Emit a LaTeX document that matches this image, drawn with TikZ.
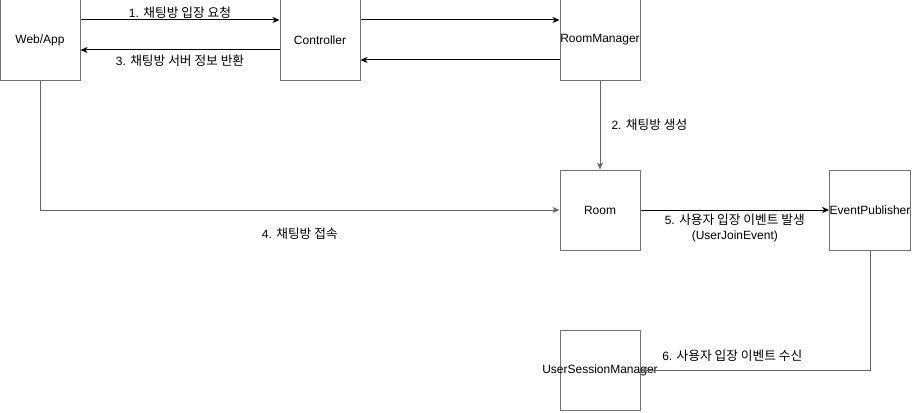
\documentclass[tikz,border=0pt]{standalone}
\usepackage{fontspec}
\setmainfont{Liberation Sans}
\newfontfamily\kr[Scale=1.06]{Noto Sans CJK KR}
\usetikzlibrary{arrows.meta}
\tikzset{
  comp/.style={draw=black!55, line width=1pt, minimum width=80pt, minimum height=80pt, inner sep=0pt, font=\fontsize{12pt}{14pt}\selectfont},
  flow/.style={draw=black, line width=1pt, -{Stealth[length=7pt,width=6pt,inset=2pt]}},
  lbl/.style={font=\fontsize{12pt}{15pt}\selectfont, align=center, inner sep=1pt}
}
\begin{document}
\begin{tikzpicture}[x=1pt,y=-1pt]
    \useasboundingbox (0,0) rectangle (912,412);

    % components
    \node[comp] (web) at (40,40) {Web/App};
    \node[comp] (ctrl) at (320,40) {Controller};
    \node[comp] (rmgr) at (600,40) {RoomManager};
    \node[comp] (room) at (600,210) {Room};
    \node[comp] (pub) at (870,210) {EventPublisher};
    \node[comp] (usm) at (600,370) {\makebox[0pt]{UserSessionManager}};

    % requests
    \draw[flow] ([yshift=20pt]web.east) -- node[lbl, above=0pt] {1. {\kr 채팅방 입장 요청}} ([yshift=20pt]ctrl.west);
    \draw[flow] ([yshift=-10pt]ctrl.west) -- node[lbl, below=3pt] {3. {\kr 채팅방 서버 정보 반환}} ([yshift=-10pt]web.east);
    \draw[flow] ([yshift=20pt]ctrl.east) -- ([yshift=20pt]rmgr.west);
    \draw[flow] ([yshift=-20pt]rmgr.west) -- ([yshift=-20pt]ctrl.east);

    \draw[flow, draw=black!60] (rmgr.south) -- node[lbl, right=10pt] {2. {\kr 채팅방 생성}} (room.north);
    \draw[flow, draw=black!60] (web.south) |- node[lbl, pos=0.75, below=16pt] {4. {\kr 채팅방 접속}} (room.west);

    % events
    \draw[flow] (room.east) -- node[lbl, below=2pt] {5. {\kr 사용자 입장 이벤트 발생}\\(UserJoinEvent)} (pub.west);
    \draw[flow, draw=black!60] (pub.south) |- node[lbl, pos=0.8, above=7pt] {6. {\kr 사용자 입장 이벤트 수신}} (usm.east);

\end{tikzpicture}
\end{document}
